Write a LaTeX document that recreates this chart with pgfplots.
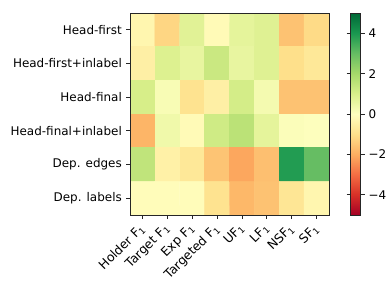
\documentclass[border=0pt]{standalone}
\usepackage{pgfplots}
\pgfplotsset{compat=1.18}
\usepackage{fontspec}
\setmainfont{DejaVu Sans}
\begin{document}
\fontsize{12}{14}\selectfont
\begin{tikzpicture}[x=1bp,y=1bp]
\path[use as bounding box] (0,0) rectangle (392,294);
\begin{axis}[
  at={(130bp,79bp)}, anchor=south west,
  scale only axis, width=199bp, height=202bp,
  xmin=-0.5, xmax=7.5, ymin=-0.5, ymax=5.5,
  y dir=reverse, enlargelimits=false, axis on top,
  axis line style={black!85, line width=0.8bp},
  tick align=outside, xtick pos=bottom, ytick pos=left,
  major tick length=4bp,
  every tick/.style={black!85, line width=0.8bp},
  xtick={0,...,7}, ytick={0,...,5},
  xticklabels={Holder F\textsubscript{1}, Target F\textsubscript{1}, Exp F\textsubscript{1}, Targeted F\textsubscript{1}, UF\textsubscript{1}, LF\textsubscript{1}, NSF\textsubscript{1}, SF\textsubscript{1}},
  yticklabels={Head-first, Head-first+inlabel, Head-final, Head-final+inlabel, Dep. edges, Dep. labels},
  xticklabel style={xshift=-4bp, yshift=-2bp, rotate=45, anchor=north east, inner sep=1bp, font=\fontsize{12.5}{14}\selectfont},
  yticklabel style={font=\fontsize{12}{14}\selectfont},
  colormap={RdYlGn}{rgb255=(165,0,38) rgb255=(215,48,39) rgb255=(244,109,67) rgb255=(253,174,97) rgb255=(254,224,139) rgb255=(255,255,191) rgb255=(217,239,139) rgb255=(166,217,106) rgb255=(102,189,99) rgb255=(26,152,80) rgb255=(0,104,55)},
  point meta min=-5, point meta max=5,
  colorbar,
  colorbar style={
    at={(parent axis.north east)}, anchor=north west, xshift=13bp,
    width=10bp,
    ytick={-4,-2,0,2,4},
    yticklabels={−4,−2,0,2,4},
    yticklabel style={font=\fontsize{12}{14}\selectfont},
    axis line style={black!85, line width=0.8bp},
    major tick length=4bp,
    tick align=outside,
  },
]
\addplot[matrix plot*, mesh/cols=8, point meta=explicit] table[meta=c] {
x y c
0 0 -0.3
1 0 -1.2
2 0 0.8
3 0 -0.15
4 0 0.7
5 0 0.85
6 0 -1.6
7 0 -1.1
0 1 -0.5
1 1 0.9
2 1 0.6
3 1 1.3
4 1 0.6
5 1 0.85
6 1 -1.0
7 1 -0.75
0 2 1.05
1 2 0.2
2 2 -0.9
3 2 -0.5
4 2 1.1
5 2 0.3
6 2 -1.6
7 2 -1.6
0 3 -1.85
1 3 0.4
2 3 -0.15
3 3 1.2
4 3 1.6
5 3 0.7
6 3 0.1
7 3 0.05
0 4 1.5
1 4 -0.45
2 4 -0.75
3 4 -1.55
4 4 -2.1
5 4 -1.65
6 4 3.9
7 4 3.0
0 5 -0.1
1 5 -0.1
2 5 -0.1
3 5 -0.9
4 5 -1.8
5 5 -1.6
6 5 -0.8
7 5 -0.3
};
\end{axis}
\end{tikzpicture}
\end{document}
